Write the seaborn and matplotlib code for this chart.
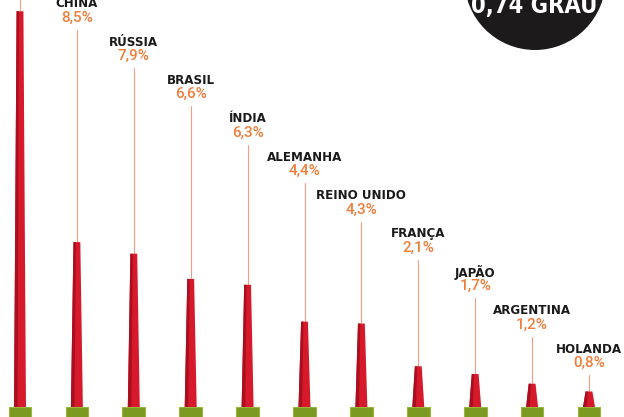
import matplotlib
matplotlib.use("Agg")
import matplotlib.pyplot as plt
import seaborn as sns
from matplotlib.patches import Polygon, Rectangle, Circle

# Participação nas emissões (%) - a primeira barra sai do quadro, sem rótulo visível
paises = ["EUA", "CHINA", "RÚSSIA", "BRASIL", "ÍNDIA", "ALEMANHA",
          "REINO UNIDO", "FRANÇA", "JAPÃO", "ARGENTINA", "HOLANDA"]
participacao = [20.4, 8.5, 7.9, 6.6, 6.3, 4.4, 4.3, 2.1, 1.7, 1.2, 0.8]
rotulos_pct = [None, "8,5%", "7,9%", "6,6%", "6,3%", "4,4%",
               "4,3%", "2,1%", "1,7%", "1,2%", "0,8%"]
selo = "0,74 GRAU"

VERMELHO = "#d61a2c"
VERMELHO_ESCURO = "#a90f1f"
VERDE = "#7a9a22"
LARANJA = "#ef7e3c"
LINHA = "#f4a080"

sns.set_style("white")
fig = plt.figure(figsize=(6.24, 4.17), dpi=100)
ax = fig.add_axes([0, 0, 1, 1])

sns.barplot(x=paises, y=participacao, color=VERMELHO, width=0.21,
            saturation=1, ax=ax)

# escala: 56.9 px por categoria, 19.4 px por ponto percentual
ylim = (-10 / 19.4, 407 / 19.4)
ax.set_xlim(-20 / 56.9, -20 / 56.9 + 624 / 56.9)
ax.set_ylim(*ylim)
ax.axis("off")

# barras afuniladas no lugar dos retângulos
larg_topo = 0.12
for p in list(ax.patches):
    xc = p.get_x() + p.get_width() / 2
    wb = p.get_width()
    h = p.get_height()
    p.set_visible(False)
    ax.add_patch(Polygon([(xc - wb / 2, 0), (xc - larg_topo / 2, h),
                          (xc + larg_topo / 2, h), (xc + wb / 2, 0)],
                         closed=True, facecolor=VERMELHO, edgecolor="none", zorder=3))
    ax.add_patch(Polygon([(xc - wb / 2, 0), (xc - larg_topo / 2, h),
                          (xc - larg_topo / 2 + larg_topo * 0.35, h),
                          (xc - wb / 2 + wb * 0.3, 0)],
                         closed=True, facecolor=VERMELHO_ESCURO, edgecolor="none", zorder=3))
    # pedestal verde
    ax.add_patch(Rectangle((xc - 0.2, ylim[0] - 1), 0.4, 1 - ylim[0] - 0.02,
                           facecolor=VERDE, edgecolor="#9bb63e", lw=0.8, zorder=2))


def px_para_dado(py):
    return ylim[1] - py / 417 * (ylim[1] - ylim[0])


# rótulos em escada com linhas guia
for i, (nome, val, pct) in enumerate(zip(paises, participacao, rotulos_pct)):
    if pct is None:
        ax.plot([i, i], [px_para_dado(0), val], color=LINHA, lw=0.8, zorder=1)
        continue
    y_nome = 3.6 + 38.4 * (i - 1)
    ax.text(i, px_para_dado(y_nome), nome, ha="center", va="center",
            fontsize=8.6, fontweight="bold", color="#1a1a1a", family="DejaVu Sans")
    ax.text(i, px_para_dado(y_nome + 14), pct, ha="center", va="center",
            fontsize=11, fontweight="medium", color=LARANJA, family="Roboto")
    ax.plot([i, i], [px_para_dado(y_nome + 26), val], color=LINHA, lw=0.8, zorder=1)

# selo preto no canto
fig.patches.append(Circle((5.35, 4.376), 0.706, transform=fig.dpi_scale_trans,
                          facecolor="#1c1a1a", edgecolor="none"))
fig.text(534 / 624, (417 - 12.7) / 417, selo, ha="center", va="baseline",
         fontsize=17, fontweight="bold", fontstretch="condensed", color="white",
         family="DejaVu Sans")

fig.savefig("out.png", dpi=100)
